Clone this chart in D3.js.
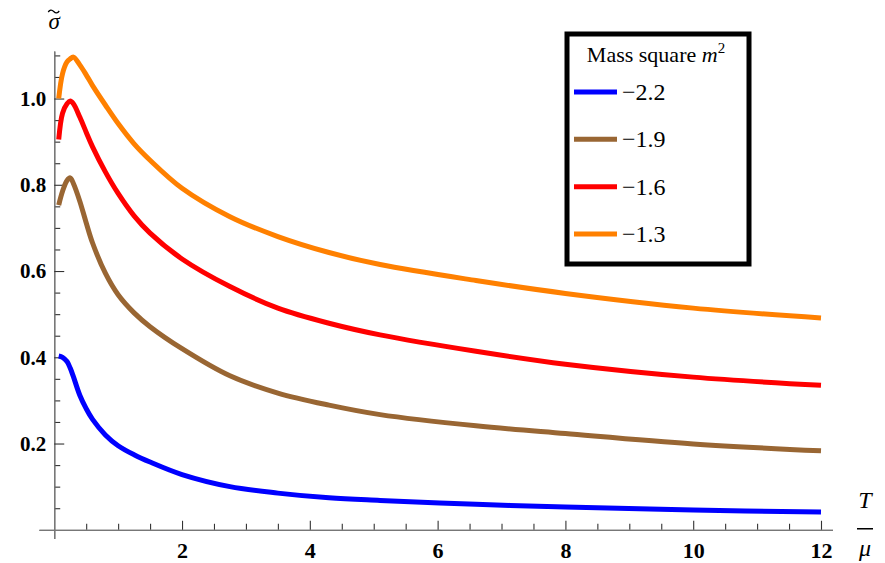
<!DOCTYPE html>
<html>
<head>
<meta charset="utf-8">
<script src="https://cdn.jsdelivr.net/npm/d3@7/dist/d3.min.js"></script>
<style>
body{margin:0;background:#fff;}
svg text{font-family:"Liberation Serif","Tinos","Times New Roman","DejaVu Serif","Noto Serif",serif;fill:#000;}
</style>
</head>
<body>
<div id="chart"></div>
<script>
// temperature over chemical potential, shared by all curves
var tOverMu = [0.07,0.13,0.2,0.25,0.3,0.4,0.5,0.6,0.8,1.0,1.25,1.5,2,2.75,3.5,4.3,5.1,6.6,8,10,12];

// sigma tilde for each mass square
var sigmaM22 = [0.403,0.400,0.390,0.375,0.355,0.312,0.281,0.256,0.220,0.195,0.174,0.157,0.128,0.100,0.085,0.074,0.068,0.059,0.053,0.046,0.041];
var sigmaM19 = [0.753,0.785,0.810,0.816,0.803,0.762,0.712,0.665,0.595,0.545,0.503,0.471,0.420,0.357,0.317,0.289,0.267,0.241,0.223,0.199,0.183];
var sigmaM16 = [0.905,0.966,0.988,0.994,0.988,0.957,0.922,0.888,0.830,0.780,0.728,0.688,0.628,0.564,0.514,0.479,0.452,0.414,0.384,0.354,0.335];
var sigmaM13 = [1.000,1.058,1.085,1.092,1.096,1.078,1.055,1.030,0.985,0.942,0.895,0.857,0.792,0.726,0.680,0.643,0.615,0.578,0.548,0.514,0.491];

var massLabels = ["\u22122.2","\u22121.9","\u22121.6","\u22121.3"];
var massColors = ["#0000ff","#996633","#ff0000","#ff8000"];

var xMajorTicks = [2,4,6,8,10,12];
var yMajorTicks = [0.2,0.4,0.6,0.8,1.0];
var yTickLabels = ["0.2","0.4","0.6","0.8","1.0"];

(function(){
    var width = 885, height = 563;
    var serif = "'Liberation Serif','Tinos','Times New Roman','DejaVu Serif','Noto Serif',serif";
    var allSigma = [sigmaM22, sigmaM19, sigmaM16, sigmaM13];

    var svg = d3.select("#chart").append("svg")
        .attr("width", width)
        .attr("height", height);

    svg.append("rect").attr("width", width).attr("height", height).style("fill", "white");

    var x = d3.scaleLinear().domain([-0.24, 12.18]).range([38.9, 832.5]);
    var y = d3.scaleLinear().domain([-0.02, 1.11]).range([538.4, 51.1]);

    //minor ticks every half unit / every 0.05, skipping the majors
    var xMinor = d3.range(1, 25).map(function(d){ return d/2; })
        .filter(function(d){ return xMajorTicks.indexOf(d) < 0; });
    var yMinor = d3.range(1, 23).map(function(d){ return +(d*0.05).toFixed(2); })
        .filter(function(d){ return yMajorTicks.indexOf(d) < 0; });

    //x axis, ticks point up into the plot
    var xAxisG = svg.append("g").attr("transform", "translate(0," + y(0) + ")");
    xAxisG.call(d3.axisTop(x).tickValues(xMinor).tickSize(6).tickSizeOuter(0).tickFormat(""));
    xAxisG.append("g").call(d3.axisBottom(x).tickValues(xMajorTicks).tickSizeInner(-9).tickSizeOuter(0).tickPadding(13).tickFormat(d3.format("d")));

    //y axis, ticks point right into the plot
    var yAxisG = svg.append("g").attr("transform", "translate(" + x(0) + ",0)");
    yAxisG.call(d3.axisRight(y).tickValues(yMinor).tickSize(6).tickSizeOuter(0).tickFormat(""));
    yAxisG.append("g").call(d3.axisLeft(y).tickValues(yMajorTicks).tickSizeInner(-10).tickSizeOuter(0).tickPadding(8)
        .tickFormat(function(d, i){ return yTickLabels[i]; }));

    svg.selectAll(".domain").style("stroke", "#777").style("stroke-width", 1.3);
    svg.selectAll(".tick line").style("stroke", "#333").style("stroke-width", 1.1);
    svg.selectAll(".tick text")
        .attr("font-family", null)
        .style("font-family", serif)
        .style("font-weight", "bold")
        .style("fill", "#000");
    xAxisG.selectAll(".tick text").style("font-size", "22px");
    yAxisG.selectAll(".tick text").style("font-size", "21px");

    //curves
    var line = d3.line()
        .x(function(d){ return x(d[0]); })
        .y(function(d){ return y(d[1]); })
        .curve(d3.curveCatmullRom.alpha(0.5));

    svg.append("g").selectAll("path.curve")
        .data(allSigma)
        .enter().append("path")
        .attr("class", "curve")
        .attr("d", function(s){
            return line(s.map(function(v, i){ return [tOverMu[i], v]; }));
        })
        .style("fill", "none")
        .style("stroke", function(d, i){ return massColors[i]; })
        .style("stroke-width", 5)
        .style("stroke-linejoin", "round");

    //axis labels: sigma with a tilde drawn above it
    svg.append("text")
        .attr("x", x(0))
        .attr("y", 29)
        .style("text-anchor", "middle")
        .style("font-size", "23px")
        .style("font-style", "italic")
        .text("\u03C3");
    svg.append("path")
        .attr("d", "M" + (x(0) - 6) + ",12 q2.5,-3.5 5.5,-0.5 t5.5,-0.5")
        .style("fill", "none")
        .style("stroke", "#000")
        .style("stroke-width", 1.3);

    var frac = svg.append("g").attr("transform", "translate(865," + y(0) + ")");
    frac.append("text").attr("y", -22).style("text-anchor", "middle")
        .style("font-size", "24px").style("font-style", "italic").text("T");
    frac.append("line").attr("x1", -8).attr("x2", 8).attr("y1", -1).attr("y2", -1)
        .style("stroke", "#000").style("stroke-width", 1.5);
    frac.append("text").attr("y", 26).style("text-anchor", "middle")
        .style("font-size", "24px").style("font-style", "italic").text("\u03BC");

    //legend box
    var legend = svg.append("g").attr("transform", "translate(567,34)");
    legend.append("rect")
        .attr("width", 182).attr("height", 230)
        .style("fill", "white")
        .style("stroke", "black")
        .style("stroke-width", 5);

    var title = legend.append("text")
        .attr("x", 89).attr("y", 28)
        .style("text-anchor", "middle")
        .style("font-size", "22px");
    title.append("tspan").text("Mass square ");
    title.append("tspan").style("font-style", "italic").text("m");
    title.append("tspan").attr("dy", -9).style("font-size", "15px").text("2");

    var rowY = d3.scalePoint().domain(massLabels).range([58, 200]);
    var rows = legend.selectAll("g.row")
        .data(massLabels)
        .enter().append("g")
        .attr("class", "row")
        .attr("transform", function(d){ return "translate(0," + rowY(d) + ")"; });
    rows.append("line")
        .attr("x1", 7).attr("x2", 50)
        .style("stroke", function(d, i){ return massColors[i]; })
        .style("stroke-width", 5);
    rows.append("text")
        .attr("x", 55).attr("y", 8)
        .style("font-size", "24px")
        .text(function(d){ return d; });
})();
</script>
</body>
</html>
